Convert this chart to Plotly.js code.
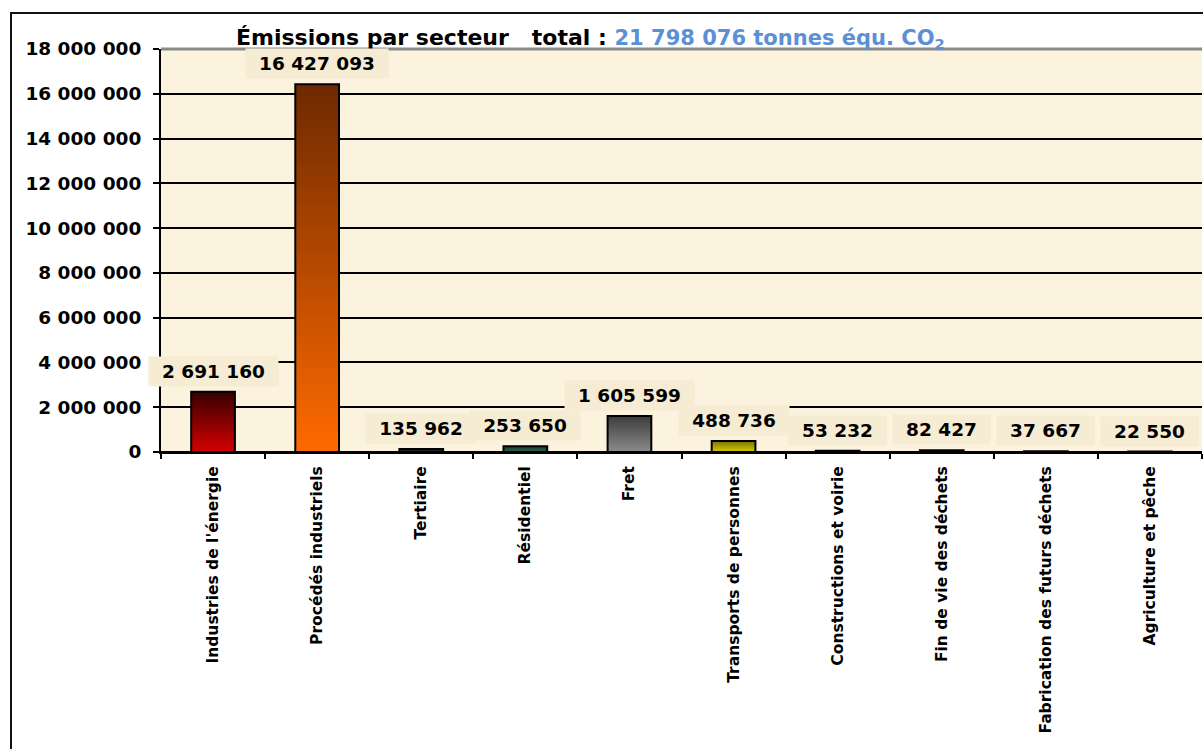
<!DOCTYPE html>
<html>
<head>
<meta charset="utf-8">
<script src="https://cdn.plot.ly/plotly-3.0.1.min.js"></script>
<style>
  html, body { margin: 0; padding: 0; background: #fff; overflow: hidden; }
  #chart { position: absolute; left: 0; top: 0; width: 1203px; height: 749px; }
  #frame { position: absolute; left: 10px; top: 12px; width: 1300px; height: 800px;
           border-left: 2px solid #111; border-top: 2px solid #111; pointer-events: none; }
</style>
</head>
<body>
<div id="chart"></div>
<div id="frame"></div>
<script>
// Émissions de gaz à effet de serre par secteur (tonnes équivalent CO2)
const categories = [
  "Industries de l'énergie",
  "Procédés industriels",
  "Tertiaire",
  "Résidentiel",
  "Fret",
  "Transports de personnes",
  "Constructions et voirie",
  "Fin de vie des déchets",
  "Fabrication des futurs déchets",
  "Agriculture et pêche"
];
const emissions = [2691160, 16427093, 135962, 253650, 1605599, 488736, 53232, 82427, 37667, 22550];

// Bar fills: [top colour, bottom colour] of each vertical gradient
const barGradients = [
  ["#360000", "#d60000"],
  ["#6e2900", "#ff6a00"],
  ["#111111", "#333333"],
  ["#1b3f33", "#2f6150"],
  ["#3c3c3c", "#8c8c8c"],
  ["#7c7400", "#d8cc00"],
  ["#111111", "#333333"],
  ["#111111", "#333333"],
  ["#111111", "#333333"],
  ["#111111", "#333333"]
];

const FONT = "DejaVu Sans, Verdana, sans-serif";

function groupDigits(n) {
  return String(Math.round(n)).replace(/\B(?=(\d{3})+(?!\d))/g, " ");
}

// approximate bold text width, for the label boxes
function labelWidth(s, size) {
  let w = 0;
  for (const ch of s) w += (ch === " " ? 0.348 : 0.696);
  return Math.round(w * size + 18);
}

const total = emissions.reduce((a, b) => a + b, 0);

const trace = {
  type: "bar",
  x: categories,
  y: emissions,
  width: 0.42,
  marker: {
    color: barGradients.map(g => g[1]),
    line: { color: "#000", width: 2 }
  },
  hoverinfo: "x+y"
};

const valueLabels = emissions.map((v, i) => {
  const txt = groupDigits(v);
  return {
    x: categories[i], y: v, xref: "x", yref: "y",
    text: "<b>" + txt + "</b>",
    showarrow: false,
    yanchor: "bottom",
    yshift: 5,
    bgcolor: "#f6ebd3",
    borderpad: 4,
    width: labelWidth(txt, 18.5),
    font: { family: FONT, size: 18.5, color: "#000" }
  };
});

const layout = {
  width: 1203,
  height: 749,
  margin: { l: 161, r: 1, t: 49, b: 297 },
  paper_bgcolor: "#ffffff",
  plot_bgcolor: "#fcf3de",
  separators: ", ",
  showlegend: false,
  title: {
    text: "<b>Émissions par secteur\u00a0\u00a0\u00a0total :\u00a0<span style=\"color:#5b8fd6;font-size:21px\">" +
          groupDigits(total) + " tonnes équ. CO<sub style=\"font-size:13px\">2</sub></span></b>",
    font: { family: FONT, size: 22, color: "#000" },
    xref: "container", yref: "container",
    x: 236 / 1203, xanchor: "left",
    y: 1 - 37 / 749, yanchor: "middle"
  },
  xaxis: {
    type: "category",
    range: [-0.5, 9.5],
    showline: true, linecolor: "#000", linewidth: 2,
    ticks: "outside", tickson: "boundaries", ticklen: 5, tickwidth: 2, tickcolor: "#000",
    tickangle: -90,
    ticklabelstandoff: 6,
    tickfont: { family: FONT, size: 15.5, color: "#000", weight: "bold" },
    showgrid: false,
    zeroline: false
  },
  yaxis: {
    range: [0, 18000000],
    dtick: 2000000,
    tickformat: ",d",
    showline: true, linecolor: "#000", linewidth: 2,
    ticks: "outside", ticklen: 6, tickwidth: 2, tickcolor: "#000",
    ticklabelstandoff: 8,
    tickfont: { family: FONT, size: 18.5, color: "#000", weight: "bold" },
    showgrid: true, gridcolor: "#000", gridwidth: 2,
    zeroline: true, zerolinecolor: "#000", zerolinewidth: 2
  },
  shapes: [
    { type: "line", xref: "paper", yref: "paper", x0: 0, x1: 1, y0: 1, y1: 1,
      line: { color: "#8a8a8a", width: 3 } }
  ],
  annotations: valueLabels,
  bargap: 0.58
};

Plotly.newPlot("chart", [trace], layout, { staticPlot: true }).then(gd => {
  // vertical gradient fills for the bars
  const svgNS = "http://www.w3.org/2000/svg";
  const svg = gd.querySelector("svg.main-svg");
  let defs = svg.querySelector("defs");
  if (!defs) { defs = document.createElementNS(svgNS, "defs"); svg.insertBefore(defs, svg.firstChild); }
  barGradients.forEach((g, i) => {
    const lg = document.createElementNS(svgNS, "linearGradient");
    lg.setAttribute("id", "barfill" + i);
    lg.setAttribute("x1", "0"); lg.setAttribute("y1", "0");
    lg.setAttribute("x2", "0"); lg.setAttribute("y2", "1");
    [[0, g[0]], [1, g[1]]].forEach(([o, c]) => {
      const st = document.createElementNS(svgNS, "stop");
      st.setAttribute("offset", o);
      st.setAttribute("stop-color", c);
      lg.appendChild(st);
    });
    defs.appendChild(lg);
  });
  gd.querySelectorAll(".trace.bars .point path").forEach((p, i) => {
    p.style.fill = "url(#barfill" + i + ")";
  });
});
</script>
</body>
</html>
